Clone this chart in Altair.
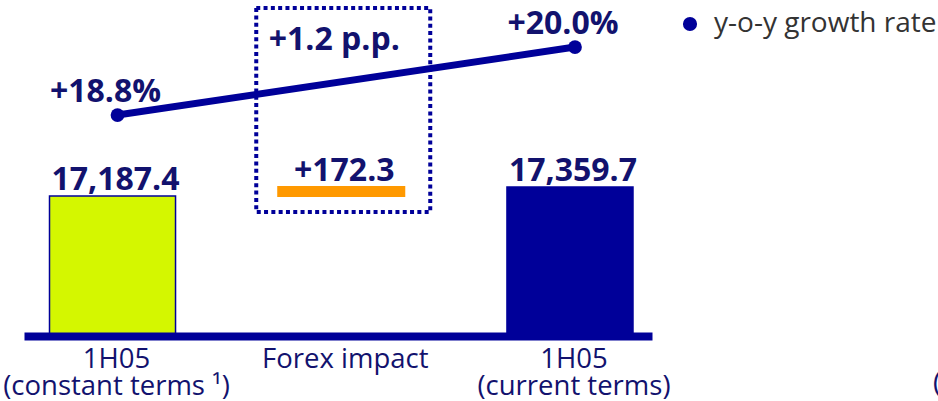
import altair as alt
import pandas as pd

# ---- data ----
categories = ["1H05|(constant terms \u00b9)", "Forex impact", "1H05|(current terms)"]
bar_cats = [categories[0], categories[2]]
bar_values = [17187.4, 17359.7]
forex_start = 17187.4
forex_end = 17359.7
forex_label = "+172.3"
rate_cats = [categories[0], categories[2]]
rates = [18.8, 20.0]
rate_diff_label = "+1.2 p.p."
series_name = "y-o-y growth rate"

NAVY = "#000099"
TEXT = "#12126e"
LIME = "#d4f700"
ORANGE = "#ff9900"
FONT = "Open Sans"

BASE = 14507
y_bar = alt.Scale(domain=[BASE, 20940], nice=False, zero=False)
y_rate = alt.Scale(domain=[14.9, 20.83], nice=False, zero=False)
x_scale = alt.Scale(domain=categories, paddingInner=0.449, paddingOuter=0.0973, align=0.573)

bars_df = pd.DataFrame({"category": bar_cats, "value": bar_values})
forex_df = pd.DataFrame({"category": [categories[1]], "start": [forex_start], "end": [forex_end]})
labels_df = pd.DataFrame({
    "category": [bar_cats[0], categories[1], bar_cats[1]],
    "top": [bar_values[0], forex_end, bar_values[1]],
    "label": [f"{bar_values[0]:,.1f}", forex_label, f"{bar_values[1]:,.1f}"],
})
rate_df = pd.DataFrame({
    "category": rate_cats,
    "rate": rates,
    "label": [f"+{r:.1f}%" for r in rates],
    "series": [series_name] * len(rates),
})
diff_df = pd.DataFrame({"category": [categories[1]], "label": [rate_diff_label]})

x_enc = alt.X(
    "category:N",
    scale=x_scale,
    sort=categories,
    axis=alt.Axis(
        title=None,
        labelAngle=0,
        ticks=False,
        tickSize=0,
        labelPadding=9,
        labelOffset=4,
        labelFont=FONT,
        labelFontSize=27.5,
        labelColor=TEXT,
        labelLineHeight=27,
        labelBaseline="top",
        labelLimit=0,
        labelOverlap=False,
        labelExpr="split(datum.label, '|')",
        domainColor=NAVY,
        domainWidth=8,
        grid=False,
        zindex=1,
    ),
)

bars = alt.Chart(bars_df).mark_bar(stroke=NAVY, strokeWidth=1.5).encode(
    x=x_enc,
    y=alt.Y("value:Q", scale=y_bar, axis=None),
    y2=alt.datum(BASE),
    color=alt.Color("category:N", scale=alt.Scale(domain=bar_cats, range=[LIME, NAVY]), legend=None),
)

forex = alt.Chart(forex_df).mark_bar(color=ORANGE, stroke=ORANGE, strokeWidth=2).encode(
    x=alt.X("category:N", scale=x_scale, sort=categories),
    y=alt.Y("start:Q", scale=y_bar, axis=None),
    y2="end:Q",
)

value_text = alt.Chart(labels_df).mark_text(
    font=FONT, fontSize=32, fontWeight="bold", color=TEXT, baseline="alphabetic", dy=-6, dx=3
).encode(
    x=alt.X("category:N", scale=x_scale, sort=categories),
    y=alt.Y("top:Q", scale=y_bar, axis=None),
    text="label:N",
)

box = alt.Chart(diff_df).mark_bar(
    filled=False, stroke=NAVY, strokeWidth=4, strokeDash=[4, 3.3], width=174, xOffset=2
).encode(
    x=alt.X("category:N", scale=x_scale, sort=categories),
    y=alt.value(8),
    y2=alt.value(212),
)

diff_text = alt.Chart(diff_df).mark_text(
    font=FONT, fontSize=32, fontWeight="bold", color=TEXT, baseline="alphabetic", dx=-7
).encode(
    x=alt.X("category:N", scale=x_scale, sort=categories),
    y=alt.value(50),
    text="label:N",
)

rate_line = alt.Chart(rate_df).mark_line(strokeWidth=7, xOffset=5).encode(
    x=alt.X("category:N", scale=x_scale, sort=categories),
    y=alt.Y("rate:Q", scale=y_rate, axis=None),
    color=alt.Color(
        "series:N",
        scale=alt.Scale(range=[NAVY]),
        legend=alt.Legend(
            title=None,
            orient="none",
            legendX=652,
            legendY=10,
            padding=0,
            symbolType="circle",
            symbolSize=200,
            symbolStrokeWidth=0,
            symbolFillColor=NAVY,
            labelFont=FONT,
            labelFontSize=28,
            labelColor="#333333",
            labelOffset=10,
            labelLimit=0,
        ),
    ),
)

rate_pts = alt.Chart(rate_df).mark_point(filled=True, size=190, opacity=1, xOffset=5).encode(
    x=alt.X("category:N", scale=x_scale, sort=categories),
    y=alt.Y("rate:Q", scale=y_rate, axis=None),
    color=alt.Color("series:N", scale=alt.Scale(range=[NAVY]), legend=None),
)

rate_text = alt.Chart(rate_df).mark_text(
    font=FONT, fontSize=32, fontWeight="bold", color=TEXT, baseline="alphabetic", dx=-7, dy=-13
).encode(
    x=alt.X("category:N", scale=x_scale, sort=categories),
    y=alt.Y("rate:Q", scale=y_rate, axis=None),
    text="label:N",
)

cut_text = alt.Chart(diff_df).mark_text(
    font=FONT, fontSize=27.5, color=TEXT, align="left", baseline="middle"
).encode(x=alt.value(909), y=alt.value(384), text=alt.value("("))

bar_layer = alt.layer(bars, forex, value_text, box, diff_text, cut_text)
rate_layer = alt.layer(rate_line, rate_pts, rate_text)

chart = alt.layer(bar_layer, rate_layer).resolve_scale(y="independent", color="independent").properties(
    width=628,
    height=336,
    padding={"left": 24, "top": 0, "right": 286, "bottom": 65},
    autosize=alt.AutoSizeParams(type="none"),
    background="white",
).configure_view(stroke=None)

chart.save("out.html", embed_options={"renderer": "svg", "actions": False})
